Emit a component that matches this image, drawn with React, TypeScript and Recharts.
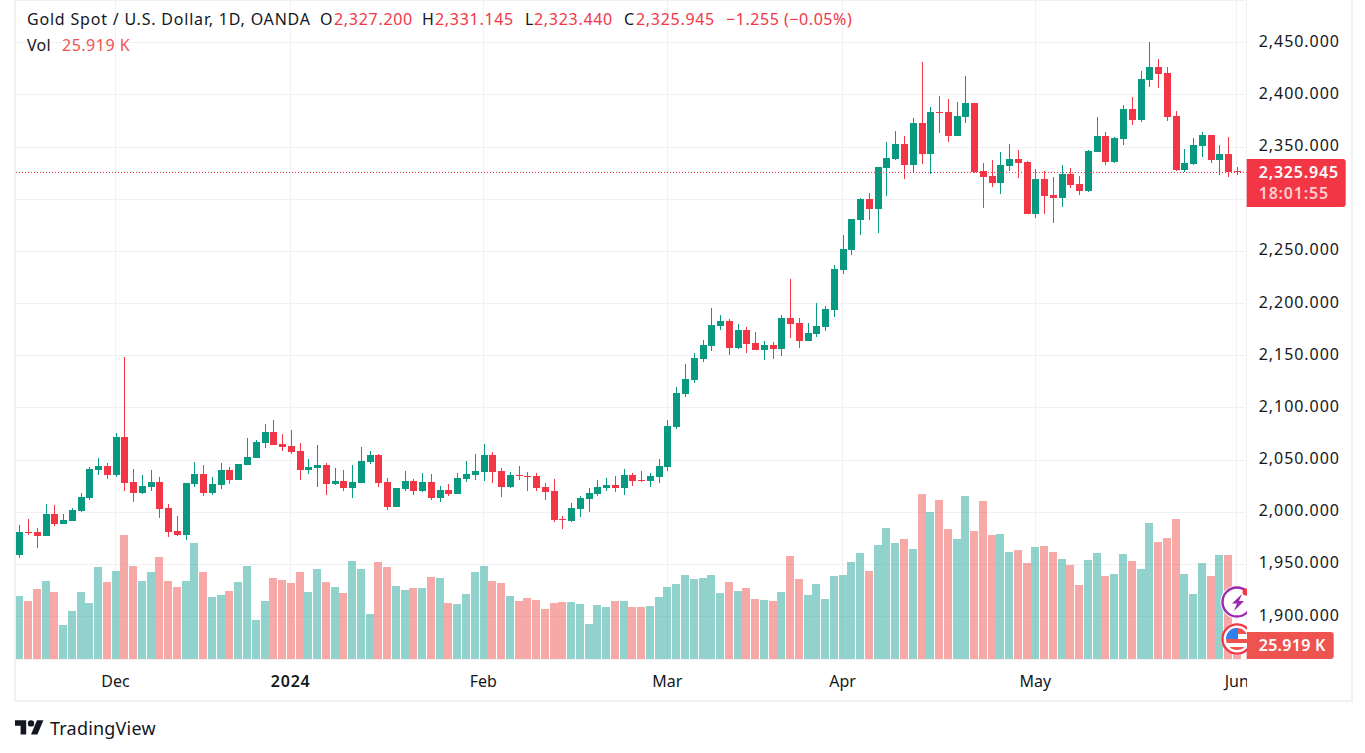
import { Bar, CartesianGrid, ComposedChart, ReferenceLine, XAxis, YAxis } from "recharts";

const opens = [
  1959.1, 1981.1, 1981.1, 1977.3, 1998.4, 1988.8, 1991.7, 2001.2, 2013.7, 2040.5,
  2044.4, 2035.8, 2072.2, 2029.0, 2018.5, 2024.2, 2029.0, 2004.1, 1982.1, 1978.2,
  2027.1, 2036.7, 2018.5, 2026.2, 2040.5, 2031.0, 2045.3, 2052.0, 2066.4, 2077.0,
  2065.5, 2063.6, 2058.8, 2040.5, 2042.4, 2045.3, 2027.1, 2030.0, 2023.3, 2028.1,
  2048.2, 2054.9, 2029.0, 2005.1, 2022.3, 2030.0, 2020.4, 2029.0, 2013.7, 2021.4,
  2017.5, 2031.9, 2035.7, 2038.6, 2054.9, 2039.6, 2024.2, 2035.7, 2034.8, 2034.8,
  2024.2, 2020.4, 1993.6, 1991.6, 2003.2, 2012.7, 2017.5, 2023.3, 2026.2, 2023.3,
  2035.7, 2031.0, 2030.0, 2033.8, 2043.4, 2081.7, 2113.4, 2126.8, 2146.9, 2159.4,
  2178.6, 2183.4, 2157.5, 2174.7, 2162.3, 2155.6, 2160.3, 2156.5, 2186.2, 2181.4,
  2164.2, 2170.9, 2177.6, 2193.9, 2232.2, 2251.4, 2280.2, 2300.3, 2290.7, 2330.0,
  2338.6, 2353.0, 2332.9, 2373.2, 2343.4, 2383.7, 2383.7, 2360.7, 2378.9, 2392.3,
  2327.2, 2322.4, 2315.6, 2331.9, 2338.6, 2335.8, 2285.9, 2319.5, 2304.2, 2301.3,
  2324.3, 2314.7, 2308.0, 2345.4, 2360.7, 2335.8, 2357.8, 2386.6, 2376.0, 2414.4,
  2426.8, 2421.1, 2379.9, 2328.1, 2333.9, 2351.1, 2361.7, 2337.7, 2343.4, 2327.2,
];

const highs = [
  1987.8, 1993.6, 1985.0, 2008.0, 2007.0, 1998.4, 2004.1, 2018.5, 2043.4, 2052.0,
  2047.3, 2076.0, 2148.9, 2041.5, 2035.8, 2040.5, 2033.8, 2008.0, 1996.5, 2028.1,
  2048.2, 2045.3, 2033.8, 2047.3, 2043.4, 2046.3, 2071.2, 2069.3, 2084.6, 2088.5,
  2075.1, 2078.9, 2066.4, 2051.1, 2064.5, 2047.3, 2042.5, 2040.5, 2045.3, 2062.6,
  2058.8, 2055.9, 2032.9, 2023.3, 2039.6, 2031.9, 2037.7, 2036.7, 2025.2, 2027.1,
  2037.7, 2049.2, 2055.9, 2065.5, 2057.8, 2042.5, 2038.6, 2044.4, 2038.6, 2037.7,
  2028.1, 2031.9, 1996.4, 2008.9, 2015.6, 2023.3, 2031.0, 2032.9, 2034.8, 2041.5,
  2037.7, 2039.6, 2037.7, 2051.1, 2088.5, 2120.1, 2142.1, 2152.7, 2165.1, 2195.8,
  2189.1, 2185.3, 2180.5, 2177.6, 2172.8, 2164.2, 2163.2, 2189.1, 2223.6, 2186.2,
  2181.4, 2200.6, 2197.7, 2237.0, 2265.8, 2281.1, 2301.2, 2306.1, 2331.0, 2354.9,
  2365.5, 2360.7, 2378.0, 2431.6, 2388.5, 2399.0, 2396.2, 2393.3, 2418.2, 2392.3,
  2334.8, 2337.7, 2345.4, 2353.0, 2347.3, 2336.7, 2329.1, 2327.2, 2321.4, 2332.9,
  2330.0, 2322.4, 2347.3, 2378.9, 2364.5, 2359.7, 2390.4, 2398.1, 2423.0, 2450.8,
  2434.5, 2426.8, 2384.7, 2348.2, 2358.8, 2364.5, 2361.7, 2352.1, 2359.7, 2331.145,
];

const lows = [
  1956.2, 1978.2, 1965.8, 1977.3, 1986.9, 1988.8, 1991.7, 2000.3, 2011.8, 2035.8,
  2031.9, 2033.8, 2020.4, 2009.9, 2017.5, 2020.4, 1994.5, 1976.3, 1977.3, 1973.4,
  2024.2, 2015.6, 2016.6, 2022.3, 2027.1, 2031.0, 2045.3, 2052.0, 2061.6, 2064.5,
  2058.8, 2055.9, 2031.0, 2036.7, 2024.2, 2016.6, 2026.2, 2020.4, 2013.7, 2028.1,
  2046.3, 2024.2, 2002.2, 2005.1, 2020.4, 2016.6, 2019.5, 2011.8, 2009.9, 2015.6,
  2017.5, 2029.0, 2031.0, 2030.0, 2028.1, 2014.7, 2023.3, 2031.0, 2020.4, 2020.4,
  2011.8, 1990.7, 1984.0, 1990.7, 1995.5, 2000.3, 2015.6, 2020.4, 2019.5, 2016.6,
  2025.2, 2029.0, 2024.2, 2028.1, 2039.6, 2079.8, 2110.5, 2123.9, 2144.0, 2154.6,
  2174.7, 2150.8, 2156.5, 2152.7, 2155.6, 2146.0, 2146.9, 2149.8, 2167.1, 2157.5,
  2164.2, 2168.0, 2173.8, 2187.2, 2228.4, 2246.6, 2265.8, 2280.2, 2267.7, 2303.2,
  2337.7, 2319.5, 2326.2, 2333.9, 2324.3, 2363.6, 2354.9, 2360.7, 2373.2, 2325.2,
  2291.7, 2311.8, 2305.1, 2327.2, 2320.4, 2285.9, 2282.1, 2285.9, 2277.3, 2292.6,
  2310.9, 2304.2, 2307.0, 2345.4, 2332.9, 2334.8, 2352.1, 2371.2, 2374.1, 2407.7,
  2406.7, 2375.1, 2327.2, 2326.2, 2332.9, 2340.6, 2334.8, 2323.3, 2321.4, 2323.44,
];

const closes = [
  1981.1, 1980.2, 1977.3, 1998.4, 1988.8, 1992.6, 2002.2, 2014.7, 2041.5, 2044.4,
  2035.8, 2072.2, 2028.1, 2018.5, 2025.2, 2029.0, 2003.2, 1981.1, 1978.2, 2028.1,
  2036.7, 2018.5, 2027.1, 2040.5, 2031.0, 2046.3, 2053.0, 2067.4, 2077.0, 2064.5,
  2062.6, 2057.8, 2040.5, 2043.4, 2045.3, 2027.1, 2030.0, 2023.3, 2029.0, 2049.2,
  2054.9, 2028.1, 2005.1, 2023.3, 2030.0, 2020.4, 2029.0, 2013.7, 2021.4, 2017.5,
  2032.9, 2036.7, 2039.6, 2054.9, 2038.6, 2024.2, 2035.7, 2034.8, 2033.8, 2023.3,
  2019.5, 1992.6, 1992.9, 2004.1, 2013.7, 2018.5, 2024.2, 2026.2, 2023.3, 2035.7,
  2030.0, 2030.0, 2034.8, 2044.4, 2082.7, 2114.3, 2127.8, 2147.9, 2160.3, 2179.5,
  2183.4, 2157.5, 2174.7, 2161.3, 2155.6, 2160.3, 2156.5, 2186.2, 2180.5, 2164.2,
  2171.8, 2178.6, 2194.9, 2233.2, 2252.4, 2281.1, 2300.3, 2290.7, 2331.0, 2339.6,
  2353.0, 2332.9, 2373.2, 2343.4, 2383.7, 2382.7, 2360.7, 2379.9, 2392.3, 2326.2,
  2321.4, 2315.6, 2332.9, 2338.6, 2334.8, 2285.9, 2319.5, 2303.2, 2301.3, 2324.3,
  2313.7, 2308.0, 2346.3, 2360.7, 2335.8, 2358.8, 2386.6, 2376.0, 2415.3, 2426.8,
  2420.1, 2378.9, 2328.1, 2334.8, 2352.1, 2361.7, 2337.7, 2343.4, 2326.2, 2325.945,
];

// volume in thousands
const volumes = [
  116.6, 107.4, 129.6, 144.4, 124.0, 62.9, 88.8, 124.0, 103.7, 170.3,
  142.5, 162.9, 229.5, 172.1, 144.4, 161.0, 188.8, 144.4, 133.3, 144.4,
  214.7, 161.0, 114.8, 118.5, 125.9, 142.5, 172.1, 72.2, 107.4, 149.9,
  146.2, 140.7, 161.0, 124.0, 166.6, 142.5, 133.3, 122.2, 181.4, 166.6,
  83.3, 179.5, 170.3, 135.1, 127.7, 131.4, 131.4, 151.8, 149.9, 103.7,
  101.8, 120.3, 161.0, 172.1, 144.4, 140.7, 116.6, 107.4, 112.9, 109.2,
  92.6, 103.7, 105.5, 105.5, 101.8, 64.8, 100.0, 96.3, 107.4, 107.4,
  96.3, 96.3, 98.1, 114.8, 133.3, 138.8, 155.5, 148.1, 149.9, 155.5,
  122.2, 142.5, 125.9, 131.4, 111.1, 109.2, 107.4, 124.0, 190.7, 148.1,
  118.5, 138.8, 111.1, 153.6, 155.5, 179.5, 196.2, 162.9, 211.0, 242.5,
  214.7, 222.1, 203.6, 305.4, 272.1, 294.3, 240.6, 222.1, 301.7, 236.9,
  292.5, 229.5, 231.4, 198.1, 201.8, 177.7, 207.3, 209.2, 198.1, 185.1,
  174.0, 137.0, 183.2, 196.2, 153.6, 157.3, 194.4, 181.4, 166.6, 251.7,
  216.6, 224.0, 259.1, 157.3, 120.3, 177.7, 153.6, 192.5, 192.5, 25.919,
];

const priceTicks = [1900, 1950, 2000, 2050, 2100, 2150, 2200, 2250, 2300, 2350, 2400, 2450];
// the last-price tag sits over this label in the original
const hiddenPriceTick = 2300;
const monthSessions = [11, 31, 53, 74, 94, 116, 139];
const monthLabels = ["Dec", "2024", "Feb", "Mar", "Apr", "May", "Jun"];

const lastPrice = 2325.945;
const lastVolume = 25.919;
const countdown = "18:01:55";

const data = closes.map((close, i) => ({
  session: i,
  open: opens[i],
  high: highs[i],
  low: lows[i],
  close,
  volume: volumes[i],
}));

const FONT = "'Noto Sans', sans-serif";
const UP = "#089981";
const DOWN = "#f23645";
const VOL_UP = "#26a69a";
const VOL_DOWN = "#ef5350";
const TEXT = "#131722";
const GRID = "#f1f1f3";
const BORDER = "#f0f0f5";

const fmtPrice = (v: number) =>
  v.toLocaleString("en-US", { minimumFractionDigits: 3, maximumFractionDigits: 3 });

function Candle({ x, y, width, height, payload }: any) {
  const { open, high, low, close } = payload;
  const col = Math.round(x + width / 2);
  const k = height / (high - low);
  const color = close >= open ? UP : DOWN;
  const top = Math.round(y + (high - Math.max(open, close)) * k);
  const bottom = Math.round(y + (high - Math.min(open, close)) * k);
  return (
    <g shapeRendering="crispEdges">
      <rect x={col} y={Math.round(y)} width={1} height={Math.max(1, Math.round(height))} fill={color} />
      <rect x={col - 3} y={top} width={7} height={Math.max(1, bottom - top)} fill={color} />
    </g>
  );
}

function VolumeBar({ x, y, width, height, payload }: any) {
  const col = Math.round(x + width / 2);
  const nextCol = Math.round(x + width / 2 + width);
  const left = col - 4;
  const right = Math.min(col + 4, nextCol - 5);
  const color = payload.close >= payload.open ? VOL_UP : VOL_DOWN;
  return (
    <rect
      x={left}
      y={Math.round(y)}
      width={right - left}
      height={Math.round(y + height) - Math.round(y)}
      fill={color}
      fillOpacity={0.5}
      shapeRendering="crispEdges"
    />
  );
}

function MonthTick({ x, y, payload }: any) {
  const label = monthLabels[monthSessions.indexOf(payload.value)];
  const bold = label === "2024";
  return (
    <text
      x={x}
      y={y + 20}
      textAnchor="middle"
      fontFamily={FONT}
      fontSize={16}
      fontWeight={bold ? 600 : 400}
      letterSpacing={bold ? 0.8 : 0}
      fill={TEXT}
    >
      {label}
    </text>
  );
}

function PriceTick({ x, y, payload }: any) {
  if (payload.value === hiddenPriceTick) return null;
  return (
    <text x={x} y={y + 4} fontFamily={FONT} fontSize={16} letterSpacing={0.95} fill={TEXT}>
      {fmtPrice(payload.value)}
    </text>
  );
}

function PriceTag({ viewBox }: any) {
  const left = viewBox.x + viewBox.width;
  const y = Math.round(viewBox.y);
  return (
    <g>
      <path
        d={`M${left} ${y - 13}H${left + 96}a3 3 0 0 1 3 3v42a3 3 0 0 1 -3 3H${left}Z`}
        fill={DOWN}
      />
      <text x={left + 12} y={y + 5.5} fontFamily={FONT} fontSize={16} fontWeight={600} letterSpacing={0.8} fill="#fff">
        {fmtPrice(lastPrice)}
      </text>
      <text x={left + 12} y={y + 27} fontFamily={FONT} fontSize={16} fontWeight={600} letterSpacing={0.8} fill="#fcc">
        {countdown}
      </text>
    </g>
  );
}

function VolumeTag({ viewBox }: any) {
  const left = viewBox.x + viewBox.width;
  const y = Math.round(viewBox.y);
  return (
    <g>
      <path d={`M${left} ${y - 13}H${left + 84}a3 3 0 0 1 3 3v21a3 3 0 0 1 -3 3H${left}Z`} fill={VOL_DOWN} />
      <text x={left + 12} y={y + 5.5} fontFamily={FONT} fontSize={16} fontWeight={600} letterSpacing={0.3} fill="#fff">
        25.919 K
      </text>
    </g>
  );
}

function Header() {
  const red = { color: DOWN, position: "absolute" as const, top: 8, whiteSpace: "pre" as const };
  const dark = { color: TEXT, position: "absolute" as const, top: 8, whiteSpace: "pre" as const };
  return (
    <div style={{ position: "absolute", left: 0, top: 0, fontFamily: FONT, fontSize: 16, lineHeight: "22px", letterSpacing: 0.7 }}>
      <span style={{ ...dark, left: 27, letterSpacing: 0.8 }}>Gold Spot / U.S. Dollar, 1D, OANDA</span>
      <span style={{ ...dark, left: 320 }}>O</span>
      <span style={{ ...red, left: 334 }}>2,327.200</span>
      <span style={{ ...dark, left: 422 }}>H</span>
      <span style={{ ...red, left: 435 }}>2,331.145</span>
      <span style={{ ...dark, left: 525 }}>L</span>
      <span style={{ ...red, left: 534 }}>2,323.440</span>
      <span style={{ ...dark, left: 624 }}>C</span>
      <span style={{ ...red, left: 636 }}>2,325.945</span>
      <span style={{ ...red, left: 726, letterSpacing: 0.55 }}>−1.255 (−0.05%)</span>
      <span style={{ ...dark, left: 27, top: 34, letterSpacing: 0.3 }}>Vol</span>
      <span style={{ ...red, left: 62, top: 34, color: VOL_DOWN, letterSpacing: 0.5 }}>25.919 K</span>
    </div>
  );
}

function EventIcons() {
  return (
    <svg width={47} height={90} style={{ position: "absolute", left: 1200, top: 575 }}>
      <circle cx={37} cy={27} r={15.5} fill="#fff" stroke="#fff" strokeWidth={2} />
      <circle cx={37} cy={27} r={14.5} fill="#fff" stroke="#9c27b0" strokeWidth={2.4} />
      <path d="M42 19l-10 9.5h5l-3 7.5 10-10h-5l3-7z" fill="#9c27b0" />
      <circle cx={46} cy={17} r={3.5} fill={DOWN} />
      <circle cx={37} cy={64} r={16} fill="#fff" />
      <circle cx={37} cy={64} r={14.6} fill="#fff" stroke={DOWN} strokeWidth={2.4} />
      <clipPath id="flag">
        <circle cx={37} cy={64} r={11} />
      </clipPath>
      <g clipPath="url(#flag)">
        <rect x={26} y={53} width={22} height={6} fill="#ef5350" />
        <rect x={26} y={64} width={22} height={4} fill="#ef5350" />
        <rect x={26} y={72} width={22} height={4} fill="#ef5350" />
        <rect x={26} y={53} width={12} height={11} fill="#2f80ed" />
      </g>
    </svg>
  );
}

export default function App() {
  return (
    <div style={{ position: "absolute", left: 0, top: 0, width: 1365, height: 753, background: "#fff", overflow: "hidden" }}>
      <ComposedChart
        width={1365}
        height={753}
        data={data}
        barCategoryGap={0}
        margin={{ top: 0, left: 14.72, right: 13.3, bottom: 53 }}
      >
        <CartesianGrid stroke={GRID} shapeRendering="crispEdges" />
        <XAxis
          dataKey="session"
          type="category"
          ticks={monthSessions}
          interval={0}
          height={41}
          padding={{ left: 0, right: 5.58 }}
          axisLine={false}
          tickLine={false}
          tick={<MonthTick />}
        />
        <XAxis xAxisId="vol" dataKey="session" type="category" hide padding={{ left: 0, right: 5.58 }} />
        <YAxis
          orientation="right"
          width={105}
          domain={[1859.4, 2491]}
          ticks={priceTicks}
          interval={0}
          axisLine={false}
          tickLine={false}
          tickMargin={6}
          tick={<PriceTick />}
        />
        <YAxis yAxisId="vol" hide domain={[0, 1219.8]} />
        <Bar xAxisId="vol" yAxisId="vol" dataKey="volume" shape={<VolumeBar />} isAnimationActive={false} />
        <ReferenceLine
          y={lastPrice}
          stroke={DOWN}
          strokeDasharray="1 2"
          shapeRendering="crispEdges"
          label={(p: any) => <PriceTag {...p} />}
        />
        <Bar dataKey={(d: any) => [d.low, d.high]} shape={<Candle />} isAnimationActive={false} />
        <ReferenceLine xAxisId="vol" yAxisId="vol" y={lastVolume} strokeOpacity={0} label={(p: any) => <VolumeTag {...p} />} />
      </ComposedChart>

      {/* Jun label is cut off where the price scale starts */}
      <div style={{ position: "absolute", left: 1246.7, top: 660, width: 30, height: 40, background: "#fff" }} />
      <EventIcons />
      <Header />
      <div
        style={{
          position: "absolute",
          left: 14,
          top: -2,
          width: 1339,
          height: 704,
          boxSizing: "border-box",
          border: `2px solid ${BORDER}`,
        }}
      />
      <svg width={36} height={28} style={{ position: "absolute", left: 15, top: 717 }} viewBox="0 0 45 35">
        <path d="M14 22H7V11H0V4h14v18ZM28 22h-8l7.5-18h8L28 22Z" fill={TEXT} />
        <circle cx={20} cy={8} r={4} fill={TEXT} />
      </svg>
      <div style={{ position: "absolute", left: 50, top: 716, fontFamily: FONT, fontSize: 18, lineHeight: "24px", letterSpacing: 0.2, color: TEXT }}>
        TradingView
      </div>
    </div>
  );
}
